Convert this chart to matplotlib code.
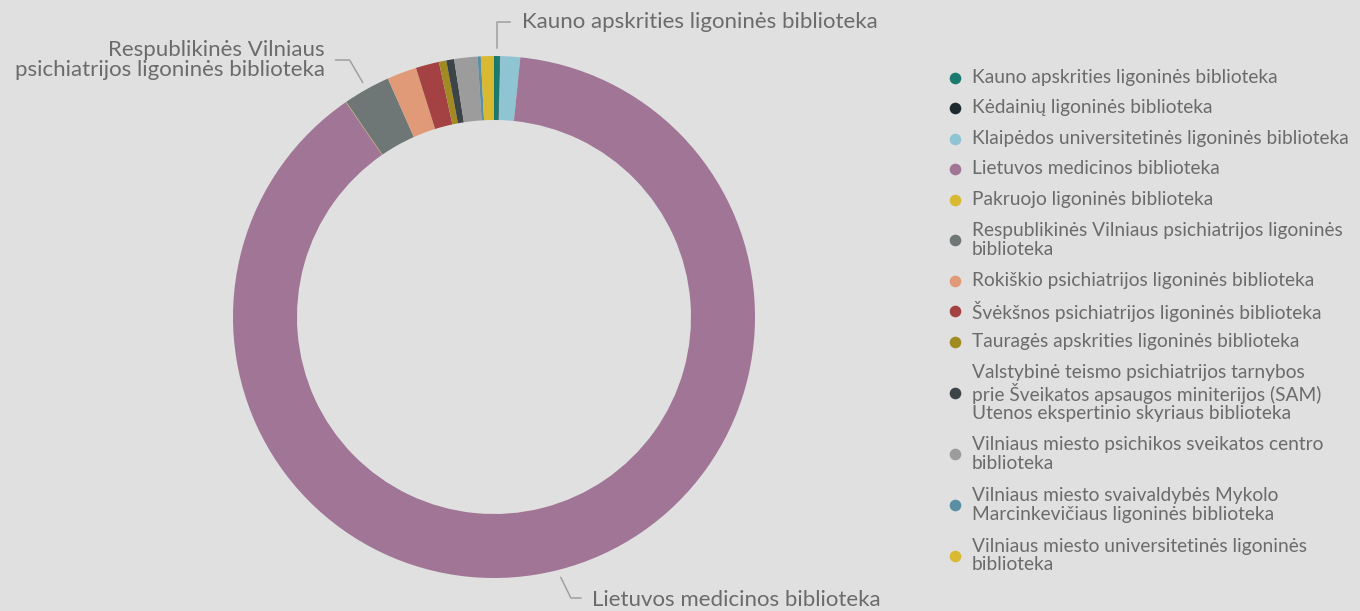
import numpy as np
import matplotlib.pyplot as plt

# slice values (read off the donut, roughly in degrees of a full 360)
libraries = [
    'Kauno apskrities ligoninės biblioteka',
    'Kėdainių ligoninės biblioteka',
    'Klaipėdos universitetinės ligoninės biblioteka',
    'Lietuvos medicinos biblioteka',
    'Pakruojo ligoninės biblioteka',
    'Respublikinės Vilniaus psichiatrijos ligoninės biblioteka',
    'Rokiškio psichiatrijos ligoninės biblioteka',
    'Švėkšnos psichiatrijos ligoninės biblioteka',
    'Tauragės apskrities ligoninės biblioteka',
    'Valstybinė teismo psichiatrijos tarnybos prie Šveikatos apsaugos miniterijos (SAM) Utenos ekspertinio skyriaus biblioteka',
    'Vilniaus miesto psichikos sveikatos centro biblioteka',
    'Vilniaus miesto svaivaldybės Mykolo Marcinkevičiaus ligoninės biblioteka',
    'Vilniaus miesto universitetinės ligoninės biblioteka',
]
legend_labels = [
    'Kauno apskrities ligoninės biblioteka',
    'Kėdainių ligoninės biblioteka',
    'Klaipėdos universitetinės ligoninės biblioteka',
    'Lietuvos medicinos biblioteka',
    'Pakruojo ligoninės biblioteka',
    'Respublikinės Vilniaus psichiatrijos ligoninės\nbiblioteka',
    'Rokiškio psichiatrijos ligoninės biblioteka',
    'Švėkšnos psichiatrijos ligoninės biblioteka',
    'Tauragės apskrities ligoninės biblioteka',
    'Valstybinė teismo psichiatrijos tarnybos\nprie Šveikatos apsaugos miniterijos (SAM)\nUtenos ekspertinio skyriaus biblioteka',
    'Vilniaus miesto psichikos sveikatos centro\nbiblioteka',
    'Vilniaus miesto svaivaldybės Mykolo\nMarcinkevičiaus ligoninės biblioteka',
    'Vilniaus miesto universitetinės ligoninės\nbiblioteka',
]
values = [1.3, 0.1, 4.4, 319.7, 0.1, 10.5, 6.6, 5.2, 1.65, 1.75, 5.2, 0.7, 2.9]
colors = ['#1a7a6e', '#1f2a30', '#8fc4d3', '#a07595', '#d9b832', '#6e7676',
          '#e09a78', '#a44142', '#a28a22', '#3d4448', '#9c9c9c', '#5a8ea3',
          '#d9b832']

bg = '#e0e0e0'
txt = '#6b6b6b'
plt.rcParams['font.family'] = ['Lato', 'DejaVu Sans']

W, H = 1360, 611
fig = plt.figure(figsize=(W / 100, H / 100), dpi=100, facecolor=bg)
ax = fig.add_axes([0, 0, 1, 1])
ax.set_facecolor(bg)

cx, cy, R = 494, H - 317, 261
wedges, _ = ax.pie(values, colors=colors, startangle=90, counterclock=False,
                   center=(cx, cy), radius=R,
                   wedgeprops=dict(width=64, linewidth=0))
ax.set_xlim(0, W)
ax.set_ylim(0, H)
ax.set_aspect('equal')
ax.axis('off')


def mid_point(i, r):
    w = wedges[i]
    a = np.deg2rad((w.theta1 + w.theta2) / 2)
    return cx + r * np.cos(a), cy + r * np.sin(a)


line_kw = dict(color='#a0a0a0', lw=1.1)

# Kauno
x0, y0 = mid_point(0, R + 8)
ax.plot([x0, x0, x0 + 13], [y0, H - 22, H - 22], **line_kw)
ax.text(x0 + 25, H - 22, libraries[0], fontsize=16, color=txt,
        va='center', ha='left')

# Respublikinės
x0, y0 = mid_point(5, R + 8)
ax.plot([x0, x0 - 13, x0 - 27], [y0, H - 60, H - 60], **line_kw)
ax.text(x0 - 38, H - 60, 'Respublikinės Vilniaus\npsichiatrijos ligoninės biblioteka',
        fontsize=16, color=txt, va='center', ha='right', linespacing=1.0)

# Lietuvos
x0, y0 = mid_point(3, R + 8)
ax.plot([x0, x0 + 10, x0 + 20], [y0, H - 598, H - 598], **line_kw)
ax.text(x0 + 31, H - 600, libraries[3], fontsize=16, color=txt,
        va='center', ha='left')

# legend drawn by hand to keep the wrapped entries
y = 77.5
for lab, col in zip(legend_labels, colors):
    n = lab.count('\n') + 1
    yc = y + (n - 1) * 10.2
    ax.scatter([955], [H - yc], s=70, color=col, linewidths=0)
    ax.text(972, H - yc, lab, fontsize=13.8, color=txt, va='center',
            ha='left', linespacing=1.11)
    y += 30.5 + (n - 1) * 20.4

fig.savefig('out.png', dpi=100, facecolor=bg)
